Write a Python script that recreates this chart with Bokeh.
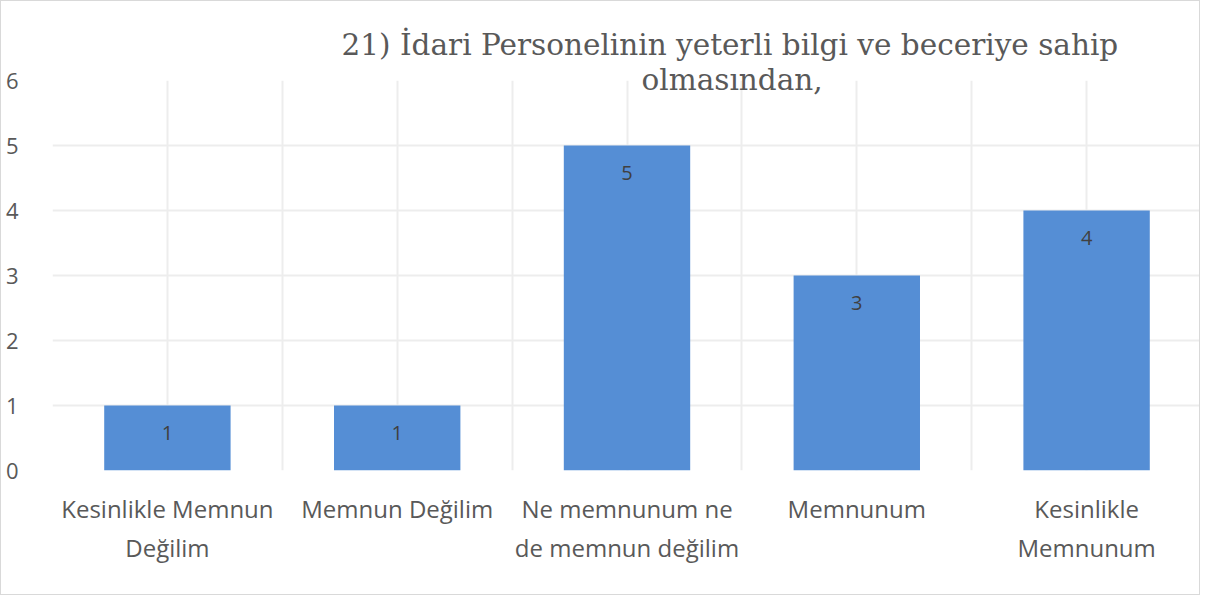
from bokeh.plotting import figure
from bokeh.models import Range1d, FixedTicker, Title, ColumnDataSource
from bokeh.core.properties import value
from bokeh.embed import file_html
from bokeh.resources import INLINE

categories = ["Kesinlikle Memnun\nDeğilim", "Memnun Değilim", "Ne memnunum ne\nde memnun değilim",
              "Memnunum", "Kesinlikle\nMemnunum"]
counts = [1, 1, 5, 3, 4]
y_ticks = [0, 1, 2, 3, 4, 5, 6]
title_lines = ["21) İdari Personelinin yeterli bilgi ve beceriye sahip", "olmasından,"]

n = len(categories)
xs = [i + 0.5 for i in range(n)]
src = ColumnDataSource(dict(x=xs, top=counts, lab=[str(c) for c in counts]))

p = figure(width=1200, height=595, output_backend="svg", toolbar_location=None,
           x_range=Range1d(0, n), y_range=Range1d(0, 6),
           min_border_left=51, min_border_right=0, min_border_top=79, min_border_bottom=126)
p.outline_line_color = None
p.background_fill_color = "white"
p.border_fill_color = "white"

p.vbar(x="x", top="top", width=0.55, bottom=0, source=src, fill_color="#558ED5", line_color=None)
p.text(x="x", y="top", text="lab", source=src, y_offset=27, text_align="center",
       text_baseline="middle", text_font=value("Open Sans"), text_font_size="20px", text_color="#404040")

TEXT = "#595959"
xa = p.xaxis[0]
xa.ticker = FixedTicker(ticks=xs)
xa.major_label_overrides = {x: c for x, c in zip(xs, categories)}
xa.axis_line_color = None
xa.major_tick_line_color = None
xa.minor_tick_line_color = None
xa.major_label_text_font = "Open Sans"
xa.major_label_text_font_size = "24px"
xa.major_label_text_color = TEXT
xa.major_label_standoff = 15

ya = p.yaxis[0]
ya.ticker = FixedTicker(ticks=y_ticks)
ya.axis_line_color = None
ya.major_tick_line_color = None
ya.minor_tick_line_color = None
ya.major_label_text_font = "Open Sans"
ya.major_label_text_font_size = "22px"
ya.major_label_text_color = TEXT
ya.major_label_standoff = 28

p.xgrid.ticker = FixedTicker(ticks=[i * 0.5 for i in range(2 * n + 1)])
p.xgrid.grid_line_color = "#EDEDED"
p.xgrid.grid_line_width = 2
p.ygrid.grid_line_color = "#EDEDED"
p.ygrid.grid_line_width = 2

# second title line first (closest to the plot), then first line above it
t2 = Title(text=title_lines[1], align="left", offset=589, text_font="DejaVu Serif",
           text_font_size="29.5px", text_font_style="normal", text_color=TEXT)
try:
    t2.standoff = -32
except Exception:
    t2.standoff = 0
t1 = Title(text=title_lines[0], align="left", offset=289, text_font="DejaVu Serif",
           text_font_size="29.5px", text_font_style="normal", text_color=TEXT, standoff=30)
p.add_layout(t2, "above")
p.add_layout(t1, "above")

try:
    p.styles = {"border": "1px solid #D9D9D9"}
except Exception:
    pass

open("out.html", "w").write(file_html(p, INLINE))
